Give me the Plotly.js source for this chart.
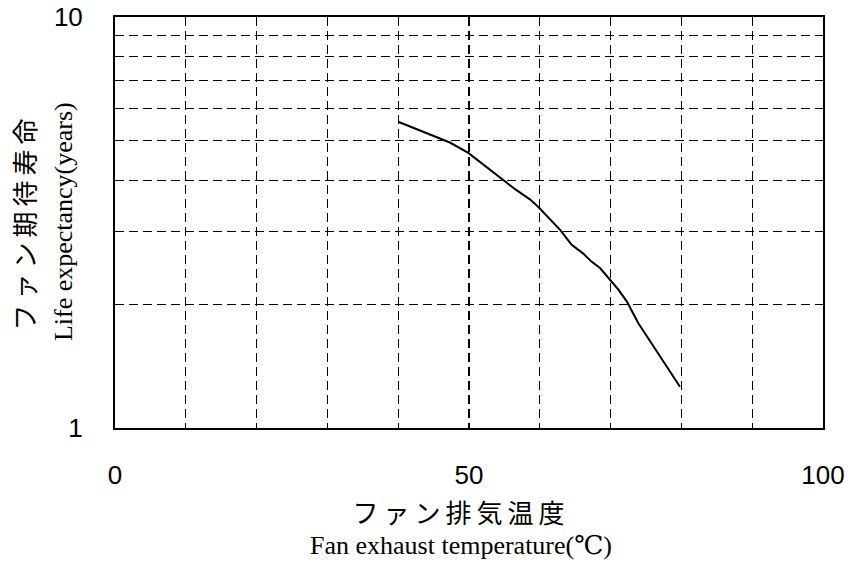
<!DOCTYPE html>
<html>
<head>
<meta charset="utf-8">
<script src="https://cdn.plot.ly/plotly-3.0.1.min.js"></script>
<style>
html,body{margin:0;padding:0;background:#fff;}
.annotation-text.ja{letter-spacing:5px;}
</style>
</head>
<body>
<div id="chart" style="width:850px;height:563px;"></div>
<script>
// Fan exhaust temperature (°C)
const temperature = [40.0, 47.3, 49.9, 54.8, 56.7, 58.6, 59.8, 62.9, 64.5, 66.1, 67.3, 68.5, 69.9, 71.1, 72.3, 73.9, 79.8];
// Life expectancy (years)
const lifeYears = [5.56, 4.95, 4.67, 4.01, 3.79, 3.60, 3.45, 3.03, 2.79, 2.66, 2.54, 2.45, 2.29, 2.17, 2.03, 1.80, 1.26];

const xTickVals = [0, 10, 20, 30, 40, 50, 60, 70, 80, 90, 100];
const xTickText = ['0', '', '', '', '', '50', '', '', '', '', '100'];
const yTickVals = [1, 2, 3, 4, 5, 6, 7, 8, 9, 10];
const yTickText = ['1', '', '', '', '', '', '', '', '', '10'];

const yTitleJa = 'ファン期待寿命';
const yTitleEn = 'Life expectancy(years)';
const xTitleJa = 'ファン排気温度';
const xTitleEn = 'Fan exhaust temperature(℃)';

const jaFont = '"Noto Sans CJK JP", "Liberation Serif", serif';
const enFont = '"Liberation Serif", "DejaVu Serif", serif';
const tickFont = {family: '"Liberation Sans", Arial, sans-serif', size: 26, color: '#000'};

const trace = {
  x: temperature,
  y: lifeYears,
  type: 'scatter',
  mode: 'lines',
  line: {color: '#000', width: 2},
  hoverinfo: 'skip'
};

const layout = {
  width: 850,
  height: 563,
  margin: {l: 115, r: 27, t: 17, b: 135},
  paper_bgcolor: '#fff',
  plot_bgcolor: '#fff',
  showlegend: false,
  xaxis: {
    range: [0, 100],
    tickvals: xTickVals,
    ticktext: xTickText,
    showgrid: true,
    gridcolor: '#000',
    gridwidth: 1.3,
    griddash: '9px,5px',
    zeroline: false,
    showline: true,
    linecolor: '#000',
    linewidth: 2,
    mirror: true,
    ticks: '',
    ticklabelstandoff: 23,
    tickfont: tickFont
  },
  yaxis: {
    type: 'log',
    range: [0, 1],
    tickvals: yTickVals,
    ticktext: yTickText,
    showgrid: true,
    gridcolor: '#000',
    gridwidth: 1,
    griddash: '9px,5px',
    zeroline: false,
    showline: true,
    linecolor: '#000',
    linewidth: 2,
    mirror: true,
    ticks: '',
    ticklabelstandoff: 25,
    tickfont: tickFont
  },
  annotations: [
    {text: yTitleJa, xref: 'paper', yref: 'paper', x: -0.13, y: 0.501, xanchor: 'center', yanchor: 'middle',
     textangle: -90, showarrow: false, font: {family: jaFont, size: 26, color: '#000'}},
    {text: yTitleEn, xref: 'paper', yref: 'paper', x: -0.0734, y: 0.501, xanchor: 'center', yanchor: 'middle',
     textangle: -90, showarrow: false, font: {family: enFont, size: 26, color: '#000'}},
    {text: xTitleJa, xref: 'paper', yref: 'paper', x: 0.489, y: -0.204, xanchor: 'center', yanchor: 'middle',
     showarrow: false, font: {family: jaFont, size: 26, color: '#000'}},
    {text: xTitleEn, xref: 'paper', yref: 'paper', x: 0.489, y: -0.287, xanchor: 'center', yanchor: 'middle',
     showarrow: false, font: {family: enFont, size: 26, color: '#000'}}
  ]
};

Plotly.newPlot('chart', [trace], layout, {staticPlot: true, displayModeBar: false}).then(function (gd) {
  // widen character spacing of the Japanese titles, as in the reference
  gd.querySelectorAll('.annotation-text').forEach(function (t) {
    if (/[\u3040-\u30ff\u4e00-\u9fff]/.test(t.textContent)) {
      t.style.letterSpacing = '5px';
    }
  });
});
</script>
</body>
</html>
